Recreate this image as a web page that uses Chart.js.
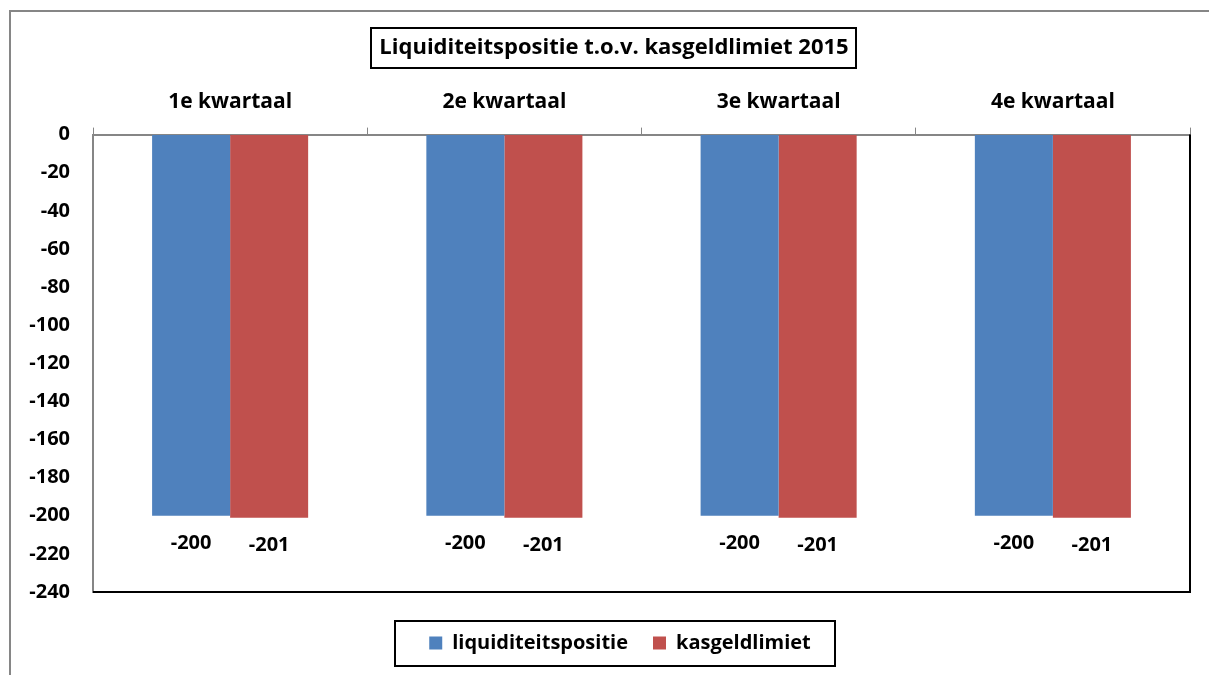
<!DOCTYPE html>
<html>
<head>
<meta charset="utf-8">
<script src="https://cdn.jsdelivr.net/npm/chart.js@4.4.1/dist/chart.umd.min.js"></script>
<style>
  html, body { margin: 0; padding: 0; background: #fff; overflow: hidden; }
  #wrap { width: 1209px; height: 675px; position: relative; }
</style>
</head>
<body>
<div id="wrap"><canvas id="chart"></canvas></div>
<script>
const quarters = ["1e kwartaal", "2e kwartaal", "3e kwartaal", "4e kwartaal"];
const liquiditeitspositie = [-200, -200, -200, -200];
const kasgeldlimiet = [-201, -201, -201, -201];
const yMin = -240;
const yMax = 0;
const yStep = 20;
const chartTitle = "Liquiditeitspositie t.o.v. kasgeldlimiet 2015";

const FONT = "'Open Sans', sans-serif";
const GREY = "#868686";

// frames, data labels and title/legend nudge in one plugin
const excelLook = {
  id: "excelLook",
  afterLayout(chart) {
    // the Excel chart area reaches past the right edge, so its title and legend sit a bit right
    const lg = chart.legend;
    lg.top += 16;
    lg.bottom += 16;
    lg.left += 25;
    lg.right += 25;
    const tb = chart.titleBlock;
    tb.left += 19;
    tb.right += 19;
  },
  beforeDraw(chart) {
    const ctx = chart.ctx;
    ctx.save();
    ctx.strokeStyle = GREY;
    ctx.lineWidth = 2;
    ctx.strokeRect(10, 11, chart.width + 50, chart.height + 50);
    ctx.restore();
  },
  afterDatasetsDraw(chart) {
    const ctx = chart.ctx;
    ctx.save();
    ctx.font = "bold 20px " + FONT;
    ctx.fillStyle = "#000";
    ctx.textAlign = "center";
    ctx.textBaseline = "middle";
    chart.data.datasets.forEach((ds, di) => {
      chart.getDatasetMeta(di).data.forEach((bar, i) => {
        ctx.fillText(String(ds.data[i]), bar.x, bar.y + 28);
      });
    });
    ctx.restore();
  },
  afterDraw(chart) {
    const ctx = chart.ctx;
    const a = chart.chartArea;
    ctx.save();
    // plot area border (right + bottom black)
    ctx.strokeStyle = "#000";
    ctx.lineWidth = 2;
    ctx.beginPath();
    ctx.moveTo(a.right, a.top);
    ctx.lineTo(a.right, a.bottom);
    ctx.lineTo(a.left, a.bottom);
    ctx.stroke();

    // title frame
    const tb = chart.titleBlock;
    const topts = chart.options.plugins.title;
    ctx.font = "bold " + topts.font.size + "px " + FONT;
    const tw = ctx.measureText(chartTitle).width;
    const cx = (tb.left + tb.right) / 2;
    const cy = tb.top + topts.padding.top + topts.font.size * 1.2 / 2;
    ctx.lineWidth = 2;
    ctx.strokeRect(Math.round(cx - tw / 2 - 8), Math.round(cy - 20), Math.round(tw + 16), 40);

    // legend frame
    const hb = chart.legend.legendHitBoxes;
    if (hb && hb.length) {
      const first = hb[0], last = hb[hb.length - 1];
      const ly = first.top + first.height / 2;
      const x0 = first.left - 34;
      const x1 = last.left + last.width + 24;
      ctx.strokeRect(Math.round(x0), Math.round(ly - 22), Math.round(x1 - x0), 45);
    }
    ctx.restore();
  }
};

new Chart(document.getElementById("chart"), {
  type: "bar",
  data: {
    labels: quarters,
    datasets: [
      { label: "liquiditeitspositie", data: liquiditeitspositie, backgroundColor: "#4F81BD" },
      { label: "kasgeldlimiet", data: kasgeldlimiet, backgroundColor: "#C0504D" }
    ]
  },
  options: {
    responsive: true,
    maintainAspectRatio: false,
    animation: false,
    layout: { padding: { top: 20, left: 0, right: 19, bottom: 28 } },
    datasets: {
      bar: { categoryPercentage: 0.569, barPercentage: 1.0 }
    },
    scales: {
      x: {
        position: "top",
        grid: { drawOnChartArea: false, drawTicks: true, tickLength: 7, color: GREY, lineWidth: 1 },
        border: { display: true, color: GREY, width: 2 },
        ticks: { color: "#000", padding: 13.4, font: { family: FONT, size: 21, weight: "bold" } }
      },
      y: {
        min: yMin,
        max: yMax,
        grid: { display: true, drawOnChartArea: false, drawTicks: false },
        border: { display: true, color: GREY, width: 2 },
        ticks: { stepSize: yStep, color: "#000", padding: 23, font: { family: FONT, size: 20, weight: "bold" } },
        afterFit(scale) { scale.width = 93; }
      }
    },
    plugins: {
      title: {
        display: true,
        text: chartTitle,
        color: "#000",
        font: { family: FONT, size: 22, weight: "bold" },
        padding: { top: 14.8, bottom: 14.4 }
      },
      legend: {
        position: "bottom",
        labels: {
          color: "#000",
          boxWidth: 13,
          boxHeight: 13,
          padding: 25,
          font: { family: FONT, size: 20, weight: "bold" }
        }
      },
      tooltip: { enabled: false }
    }
  },
  plugins: [excelLook]
});
</script>
</body>
</html>
